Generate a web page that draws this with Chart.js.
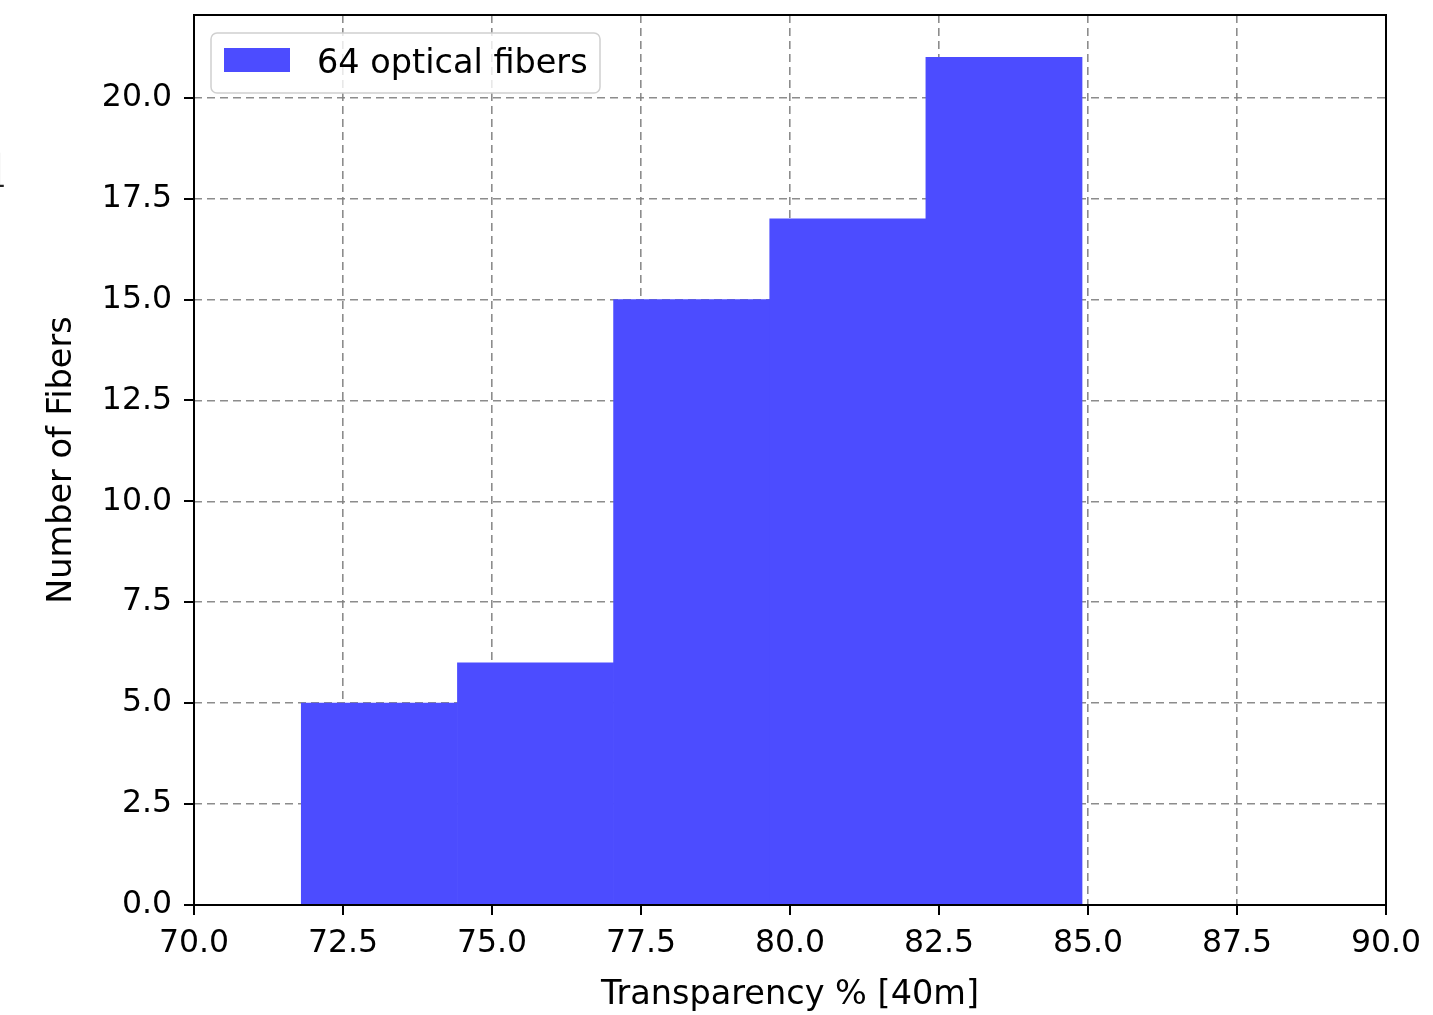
<!DOCTYPE html>
<html>
<head>
<meta charset="utf-8">
<script src="https://cdn.jsdelivr.net/npm/chart.js@4"></script>
<style>
  body { margin: 0; background: #fff; }
  #wrap { position: relative; width: 1433px; height: 1015px; overflow: hidden; }
  #cut { position: absolute; left: -9px; top: 146px; font: 44px "DejaVu Serif", serif; color: #222; }
</style>
</head>
<body>
<div id="wrap">
  <canvas id="chartCanvas" width="1433" height="1015"></canvas>
  <span id="cut">l</span>
</div>
<script>
//histogram data
const binEdges = [71.8, 74.42, 77.04, 79.66, 82.28, 84.9];
const counts = [5, 6, 15, 17, 21];
const seriesLabel = "64 optical fibers";
const xTitle = "Transparency % [40m]";
const yTitle = "Number of Fibers";
const xRange = [70, 90];
const yRange = [0, 22.05];

const FONT = "DejaVu Sans";
const TICK_SIZE = 31.5;
const TITLE_SIZE = 33.5;
const barColor = "rgb(76,76,255)"; //blue at 0.7 alpha on white
const gridColor = "rgba(128,128,128,0.9)";

//bar centres from bin edges
const points = counts.map((c, i) => ({
  x: (binEdges[i] + binEdges[i + 1]) / 2,
  y: c,
}));

//no label overflow padding, the plot box is fixed
function noPad(s) {
  s.paddingTop = 0;
  s.paddingBottom = 0;
  s.paddingLeft = 0;
  s.paddingRight = 0;
}

//frame, tick marks and legend
const framePlugin = {
  id: "frame",
  afterDraw(chart) {
    const ctx = chart.ctx;
    const a = chart.chartArea;
    ctx.save();
    ctx.strokeStyle = "#000";
    ctx.lineWidth = 2;
    ctx.strokeRect(a.left, a.top, a.right - a.left, a.bottom - a.top);
    //tick marks
    const xs = chart.scales.x;
    const ys = chart.scales.y;
    ctx.beginPath();
    xs.ticks.forEach((t) => {
      const px = Math.round(xs.getPixelForValue(t.value));
      ctx.moveTo(px, a.bottom);
      ctx.lineTo(px, a.bottom + 10);
    });
    ys.ticks.forEach((t) => {
      const py = Math.round(ys.getPixelForValue(t.value));
      ctx.moveTo(a.left, py);
      ctx.lineTo(a.left - 10, py);
    });
    ctx.stroke();

    //legend box
    const lx = a.left + 17, ly = a.top + 18, lw = 389, lh = 60, r = 6;
    ctx.fillStyle = "rgba(255,255,255,0.8)";
    ctx.strokeStyle = "#d0d0d0";
    ctx.lineWidth = 1.5;
    ctx.beginPath();
    ctx.roundRect(lx, ly, lw, lh, r);
    ctx.fill();
    ctx.stroke();
    ctx.fillStyle = barColor;
    ctx.fillRect(lx + 13, ly + 15, 66, 24);
    ctx.fillStyle = "#000";
    ctx.font = TITLE_SIZE + "px '" + FONT + "'";
    ctx.textBaseline = "middle";
    ctx.fillText(chart.data.datasets[0].label, lx + 106, ly + 31);
    ctx.restore();
  },
};

const chart = new Chart(document.getElementById("chartCanvas"), {
  type: "bar",
  data: {
    datasets: [
      {
        label: seriesLabel,
        data: points,
        xAxisID: "xb",
        backgroundColor: barColor,
        borderWidth: 0,
        barPercentage: 1,
        categoryPercentage: 1,
      },
    ],
  },
  options: {
    responsive: false,
    animation: false,
    layout: { padding: { left: 0, top: 15, right: 47, bottom: 0 } },
    plugins: { legend: { display: false }, tooltip: { enabled: false } },
    scales: {
      //hidden axis that carries the bars, without ticks so bin width = data spacing
      xb: {
        type: "linear",
        display: false,
        min: xRange[0],
        max: xRange[1],
        offset: false,
        afterBuildTicks: (s) => { s.ticks = []; },
      },
      x: {
        type: "linear",
        position: "bottom",
        min: xRange[0],
        max: xRange[1],
        offset: false,
        z: 1,
        afterFit: (s) => { s.height = 110; noPad(s); },
        grid: { color: gridColor, lineWidth: 1.6, drawTicks: false, offset: false },
        border: { display: false, dash: [8, 5] },
        ticks: {
          stepSize: 2.5,
          includeBounds: false,
          padding: 20,
          color: "#000",
          font: { family: FONT, size: TICK_SIZE },
          maxRotation: 0,
          callback: (v) => v.toFixed(1),
        },
        title: {
          display: true,
          text: xTitle,
          color: "#000",
          font: { family: FONT, size: TITLE_SIZE },
          padding: { top: 0, bottom: 0 },
        },
      },
      y: {
        type: "linear",
        min: yRange[0],
        max: yRange[1],
        z: 1,
        afterFit: (s) => { s.width = 194; noPad(s); },
        grid: { color: gridColor, lineWidth: 1.6, drawTicks: false },
        border: { display: false, dash: [8, 5] },
        ticks: {
          stepSize: 2.5,
          includeBounds: false,
          padding: 22,
          color: "#000",
          font: { family: FONT, size: TICK_SIZE },
          callback: (v) => v.toFixed(1),
        },
        title: {
          display: true,
          text: yTitle,
          color: "#000",
          font: { family: FONT, size: TITLE_SIZE },
          padding: { top: 42, bottom: 0 },
        },
      },
    },
  },
  plugins: [framePlugin],
});
</script>
</body>
</html>
